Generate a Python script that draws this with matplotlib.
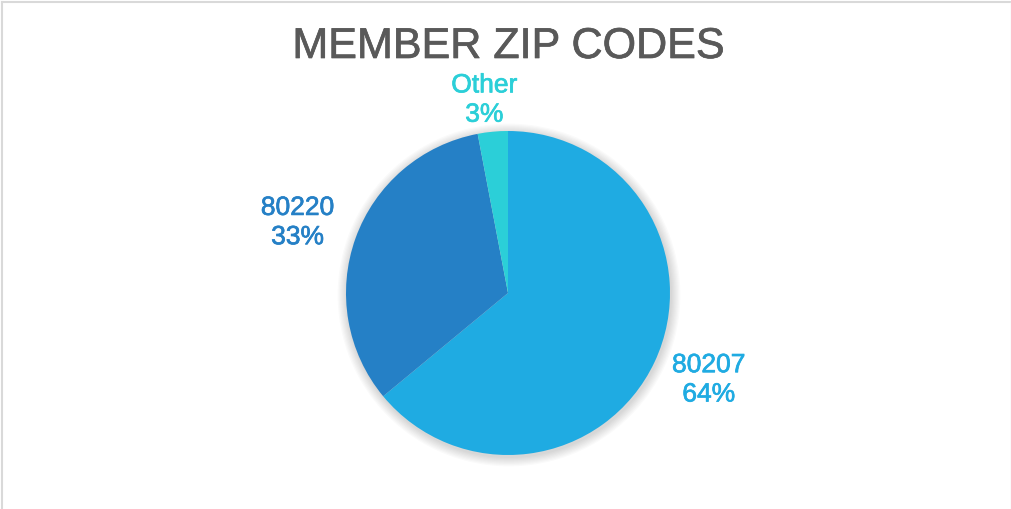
import numpy as np
import matplotlib.pyplot as plt
import matplotlib.patheffects as pe
from matplotlib.patches import Circle

# данные
zips = ['80207', '80220', 'Other']
shares = [64, 33, 3]
colors = ['#1FABE2', '#2580C6', '#2BCFD8']

plt.rcParams['font.family'] = ['Liberation Sans', 'DejaVu Sans']

W, H = 1012, 510
fig = plt.figure(figsize=(W / 100, H / 100), dpi=100)
ax = fig.add_axes([0, 0, 1, 1])

cx, cy, r = 508, H - 294, 162

# мягкая тень под кругом
for i in range(8):
    ax.add_patch(Circle((cx + 1, cy - 2), r + 1 + i * 1.2, color='black',
                        alpha=0.018, lw=0, zorder=0))

wedges, _ = ax.pie(shares, colors=colors, startangle=90, counterclock=False,
                   center=(cx, cy), radius=r, frame=True,
                   wedgeprops=dict(linewidth=0))
ax.set_xlim(0, W)
ax.set_ylim(0, H)
ax.set_aspect('equal')
ax.axis('off')

# подписи
label_pos = [(-23.4, 1.35), (161.5, 1.37), (97.0, 1.20)]
for name, val, col, (ang, dist) in zip(zips, shares, colors, label_pos):
    a = np.deg2rad(ang)
    x = cx + r * dist * np.cos(a)
    y = cy + r * dist * np.sin(a)
    ax.text(x, y, f'{name}\n{val}%', color=col, fontsize=19, ha='center',
            va='center', linespacing=1.28,
            path_effects=[pe.withStroke(linewidth=0.5, foreground=col)])

ax.text(W / 2 + 2, H - 48, 'MEMBER ZIP CODES', color='#595959', fontsize=31,
        ha='center', va='center',
        path_effects=[pe.withStroke(linewidth=0.5, foreground='#595959')])

# рамка
ax.plot([2.5, 2.5], [0, H - 2.5], color='#D9D9D9', lw=1.5, clip_on=False)
ax.plot([2.5, W], [H - 2.5, H - 2.5], color='#D9D9D9', lw=1.5, clip_on=False)
ax.plot([W - 1, W - 1], [0, H - 2.5], color='#EEEEEE', lw=1, clip_on=False)

fig.savefig('out.png', dpi=100)
